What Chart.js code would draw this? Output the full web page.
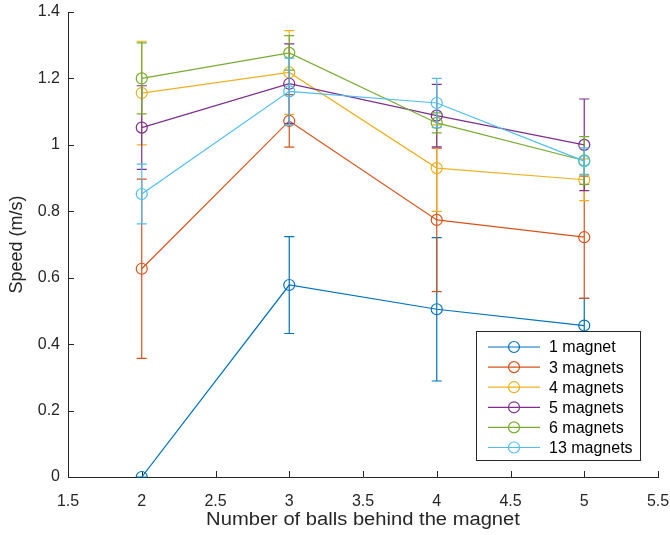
<!DOCTYPE html>
<html><head><meta charset="utf-8">
<script src="https://cdn.jsdelivr.net/npm/chart.js@4.4.1/dist/chart.umd.min.js"></script>
<style>html,body{margin:0;padding:0;background:#fff;overflow:hidden}#wrap{width:670px;height:535px;position:relative}</style>
</head><body><div id="wrap"><canvas id="c"></canvas></div>
<script>
const xValues = [2, 3, 4, 5];
const seriesLabels = ['1 magnet', '3 magnets', '4 magnets', '5 magnets', '6 magnets', '13 magnets'];
const seriesColors = ['#0072BD', '#D95319', '#EDB120', '#7E2F8E', '#77AC30', '#4DBEEE'];
const speed1  = [0,     0.578, 0.505, 0.456];
const speed3  = [0.627, 1.072, 0.774, 0.722];
const speed4  = [1.156, 1.218, 0.930, 0.895];
const speed5  = [1.052, 1.184, 1.088, 1.000];
const speed6  = [1.200, 1.277, 1.066, 0.953];
const speed13 = [0.852, 1.161, 1.126, 0.951];
const err1  = [0,     0.146, 0.216, 0.082];
const err3  = [0.270, 0.079, 0.216, 0.184];
const err4  = [0.156, 0.126, 0.130, 0.063];
const err5  = [0.126, 0.120, 0.094, 0.138];
const err6  = [0.107, 0.052, 0.030, 0.072];
const err13 = [0.090, 0.100, 0.074, 0.040];
const xTicks = [1.5, 2, 2.5, 3, 3.5, 4, 4.5, 5, 5.5];
const yTicks = [0, 0.2, 0.4, 0.6, 0.8, 1, 1.2, 1.4];
const xTitle = 'Number of balls behind the magnet';
const yTitle = 'Speed (m/s)';

const allSpeeds = [speed1, speed3, speed4, speed5, speed6, speed13];
const allErrors = [err1, err3, err4, err5, err6, err13];
const FONT = "'Liberation Sans', Arial, Helvetica, sans-serif";
const AX = '#262626';

const datasets = allSpeeds.map((s, k) => ({
  label: seriesLabels[k],
  data: xValues.map((x, i) => ({x: x, y: s[i]})),
  errors: allErrors[k],
  borderColor: seriesColors[k],
  backgroundColor: 'rgba(0,0,0,0)',
  pointBackgroundColor: 'rgba(0,0,0,0)',
  pointBorderColor: seriesColors[k],
  pointRadius: 5.5,
  pointBorderWidth: 1.2,
  borderWidth: 1.2,
  showLine: true,
  tension: 0,
  order: -k
}));

const errorBars = {
  id: 'errorBars',
  beforeDatasetDraw(chart, args) {
    const ds = chart.data.datasets[args.index];
    const ys = chart.scales.y;
    const ctx = chart.ctx;
    ctx.save();
    ctx.strokeStyle = ds.borderColor;
    ctx.lineWidth = 1.2;
    args.meta.data.forEach((pt, i) => {
      const v = ds.data[i].y, e = ds.errors[i];
      const px = pt.x;
      const t = ys.getPixelForValue(v + e), b = ys.getPixelForValue(v - e);
      ctx.beginPath();
      ctx.moveTo(px, t); ctx.lineTo(px, b);
      ctx.moveTo(px - 5, t); ctx.lineTo(px + 5, t);
      ctx.moveTo(px - 5, b); ctx.lineTo(px + 5, b);
      ctx.stroke();
    });
    ctx.restore();
  }
};

const innerTicks = {
  id: 'innerTicks',
  beforeDatasetsDraw(chart) {
    const {ctx, chartArea: a, scales} = chart;
    ctx.save();
    ctx.strokeStyle = AX;
    ctx.lineWidth = 1;
    ctx.beginPath();
    scales.x.ticks.forEach(t => {
      const px = Math.round(scales.x.getPixelForValue(t.value)) + 0.5;
      ctx.moveTo(px, a.bottom); ctx.lineTo(px, a.bottom - 6);
    });
    scales.y.ticks.forEach(t => {
      const py = Math.round(scales.y.getPixelForValue(t.value)) + 0.5;
      ctx.moveTo(a.left, py); ctx.lineTo(a.left + 6, py);
    });
    ctx.stroke();
    const cx = (a.left + a.right) / 2;
    ctx.font = '18px ' + FONT;
    ctx.fillStyle = AX;
    ctx.textAlign = 'center';
    ctx.textBaseline = 'middle';
    ctx.translate(cx, 520);
    ctx.scale(1.12, 1);
    ctx.fillText(xTitle, 0, 0);
    ctx.restore();
  }
};

const boxLegend = {
  id: 'boxLegend',
  afterDatasetsDraw(chart) {
    const {ctx, chartArea: a} = chart;
    const w = 164, h = 129;
    const x0 = a.right - 18 - w, y0 = a.bottom - 17 - h;
    ctx.save();
    ctx.fillStyle = '#fff';
    ctx.fillRect(x0, y0, w, h);
    ctx.strokeStyle = '#262626';
    ctx.lineWidth = 1;
    ctx.strokeRect(Math.round(x0) + 0.5, Math.round(y0) + 0.5, w, h);
    ctx.font = '16px ' + FONT;
    ctx.textBaseline = 'middle';
    ctx.textAlign = 'left';
    chart.data.datasets.forEach((ds, k) => {
      const yy = y0 + 16 + k * 20.1;
      ctx.strokeStyle = ds.borderColor;
      ctx.lineWidth = 1.2;
      ctx.beginPath();
      ctx.moveTo(x0 + 12, yy); ctx.lineTo(x0 + 64, yy);
      ctx.stroke();
      ctx.beginPath();
      ctx.arc(x0 + 38, yy, 5.5, 0, Math.PI * 2);
      ctx.stroke();
      ctx.fillStyle = '#000';
      ctx.fillText(ds.label, x0 + 73, yy + 1);
    });
    ctx.restore();
  }
};

new Chart(document.getElementById('c'), {
  type: 'scatter',
  data: {datasets: datasets},
  plugins: [errorBars, innerTicks, boxLegend],
  options: {
    responsive: true,
    maintainAspectRatio: false,
    animation: false,
    devicePixelRatio: 1,
    layout: {padding: {top: 12, right: 12, left: 0, bottom: 0}},
    plugins: {legend: {display: false}, tooltip: {enabled: false}},
    scales: {
      x: {
        type: 'linear', min: 1.5, max: 5.5,
        afterBuildTicks: s => { s.ticks = xTicks.map(v => ({value: v})); },
        afterFit: s => { s.height = 58; s.paddingLeft = 0; s.paddingRight = 0; },
        grid: {display: false, drawTicks: false},
        border: {display: true, color: AX, width: 1},
        ticks: {font: {family: FONT, size: 16}, color: AX, padding: 15, maxRotation: 0, autoSkip: false,
                callback: v => String(v)},
        title: {display: false}
      },
      y: {
        type: 'linear', min: 0, max: 1.4,
        afterBuildTicks: s => { s.ticks = yTicks.map(v => ({value: v})); },
        afterFit: s => { s.width = 68; s.paddingTop = 0; s.paddingBottom = 0; },
        grid: {display: false, drawTicks: false},
        border: {display: true, color: AX, width: 1},
        ticks: {font: {family: FONT, size: 16}, color: AX, padding: 8, autoSkip: false,
                callback: v => String(v)},
        title: {display: true, text: yTitle, font: {family: FONT, size: 18}, color: AX, padding: {top: 6, bottom: 0}}
      }
    }
  }
});
</script>
</body></html>
